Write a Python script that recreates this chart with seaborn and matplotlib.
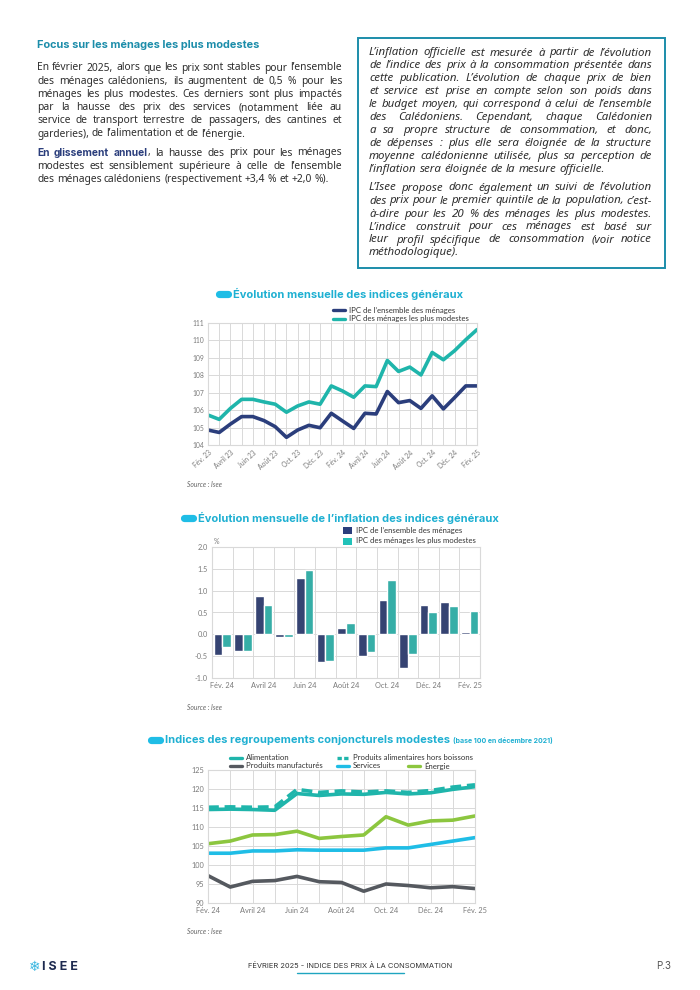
import matplotlib
matplotlib.use("Agg")
import matplotlib.pyplot as plt
from matplotlib.patches import Rectangle
from matplotlib.lines import Line2D
import seaborn as sns
import pandas as pd
import numpy as np

W, H = 700, 990

# ---- data ----
mois_23_25 = ["Fév. 23", "Mars 23", "Avril 23", "Mai 23", "Juin 23", "Juil. 23", "Août 23",
              "Sept. 23", "Oct. 23", "Nov. 23", "Déc. 23", "Janv. 24", "Fév. 24", "Mars 24",
              "Avril 24", "Mai 24", "Juin 24", "Juil. 24", "Août 24", "Sept. 24", "Oct. 24",
              "Nov. 24", "Déc. 24", "Janv. 25", "Fév. 25"]
ipc_ensemble = [104.86, 104.72, 105.20, 105.63, 105.63, 105.40, 105.05, 104.44, 104.86, 105.13,
                104.99, 105.82, 105.38, 104.95, 105.82, 105.78, 107.07, 106.43, 106.55, 106.10,
                106.82, 106.07, 106.72, 107.39, 107.39]
ipc_modestes = [105.72, 105.47, 106.10, 106.62, 106.62, 106.47, 106.34, 105.88, 106.24, 106.47,
                106.34, 107.39, 107.10, 106.74, 107.39, 107.35, 108.85, 108.22, 108.47, 108.02,
                109.31, 108.89, 109.41, 110.04, 110.62]

mois_24_25 = ["Fév. 24", "Mars 24", "Avril 24", "Mai 24", "Juin 24", "Juil. 24", "Août 24",
              "Sept. 24", "Oct. 24", "Nov. 24", "Déc. 24", "Janv. 25", "Fév. 25"]
infl_ensemble = [-0.47, -0.38, 0.87, -0.07, 1.29, -0.64, 0.15, -0.50, 0.78, -0.77, 0.68, 0.73, 0.05]
infl_modestes = [-0.30, -0.38, 0.68, -0.05, 1.47, -0.62, 0.27, -0.40, 1.24, -0.45, 0.50, 0.66, 0.54]

alimentation = [114.6, 114.7, 114.6, 114.4, 118.8, 118.3, 118.7, 118.6, 119.1, 118.7, 119.0, 119.9, 120.6]
alim_hors_boissons = [115.2, 115.3, 115.2, 115.3, 119.9, 119.1, 119.5, 119.2, 119.5, 119.1, 119.6, 120.5, 121.1]
manufactures = [97.2, 94.2, 95.7, 95.9, 97.0, 95.6, 95.4, 93.1, 95.0, 94.6, 94.0, 94.3, 93.8]
services = [103.1, 103.1, 103.7, 103.7, 104.0, 103.9, 103.9, 103.9, 104.5, 104.5, 105.4, 106.3, 107.2]
energie = [105.6, 106.3, 107.9, 108.0, 108.9, 107.0, 107.5, 107.9, 112.7, 110.5, 111.6, 111.8, 112.9]

label_ens = "IPC de l’ensemble des ménages"
label_mod = "IPC des ménages les plus modestes"

# ---- colours ----
NAVY = "#2B3E7C"
TEAL = "#1FB5AB"
TEAL_BAR = "#22C2B9"
CYAN = "#1FBDE6"
TITLE = "#1FB0D2"
HEAD = "#1C8DAA"
GREY_TXT = "#7a7a7a"
GRID = "#d9d9d9"
BODY = "#2e2e2e"
BODY_FONT = ["Noto Sans", "DejaVu Sans"]
TITLE_FONT = ["Inter", "DejaVu Sans"]

sns.set_theme(style="white")
plt.rcParams["font.family"] = ["Lato", "DejaVu Sans"]

fig = plt.figure(figsize=(7, 9.9), dpi=100)
renderer = fig.canvas.get_renderer()


def fx(x):
    return x / W


def fy(y):
    return 1 - y / H


def fit_size(lines, width, style="normal", base=8.0):
    # font size so that the fullest justified line just fills the column
    widest = 0
    for line in lines:
        t = fig.text(0, 0, line, fontsize=base, fontstyle=style, family=BODY_FONT)
        widest = max(widest, t.get_window_extent(renderer).width)
        t.remove()
    return base * width / widest * 0.99


def text_line(segments, x0, y, width=None, size=8.0, style="normal"):
    # draws one line word by word, justified when width is given
    words = []
    for txt, weight, col in segments:
        for k, w in enumerate(txt.split(" ")):
            if w:
                attached = k == 0 and len(words) > 0
                words.append((w, weight, col, attached))
    objs = []
    for w, wt, c, a in words:
        fam = TITLE_FONT if wt == "bold" else BODY_FONT
        objs.append(fig.text(0, fy(y), w, fontsize=size, fontweight=wt, color=c, fontstyle=style,
                             family=fam, va="center", ha="left"))
    widths = [o.get_window_extent(renderer).width for o in objs]
    n_gaps = sum(1 for w in words[1:] if not w[3])
    gap = size * 0.26 * 100 / 72
    if width is not None and n_gaps > 0:
        gap = max((width - sum(widths)) / n_gaps, 1.2)
    x = x0
    for o, w, wd in zip(objs, widths, words):
        if wd[3]:
            x -= gap
        o.set_x(fx(x))
        x += w + gap


# ---- left text block ----
fig.text(fx(37), fy(45), "Focus sur les ménages les plus modestes", fontsize=7.9,
         fontweight="bold", color=HEAD, va="center", family=TITLE_FONT)
para1 = ["En février 2025, alors que les prix sont stables pour l’ensemble",
         "des ménages calédoniens, ils augmentent de 0,5 % pour les",
         "ménages les plus modestes. Ces derniers sont plus impactés",
         "par la hausse des prix des services (notamment liée au",
         "service de transport terrestre de passagers, des cantines et",
         "garderies), de l’alimentation et de l’énergie."]
para2 = [[("En glissement annuel", "bold", NAVY), (", la hausse des prix pour les ménages", "normal", BODY)],
         [("modestes est sensiblement supérieure à celle de l’ensemble", "normal", BODY)],
         [("des ménages calédoniens (respectivement +3,4 % et +2,0 %).", "normal", BODY)]]
left_size = fit_size(para1[:-1] + ["".join(s[0] for s in segs) for segs in para2[:-1]], 305)
for i, line in enumerate(para1):
    last = i == len(para1) - 1
    text_line([(line, "normal", BODY)], 37, 68 + i * 13.2, None if last else 305, size=left_size)
for i, segs in enumerate(para2):
    last = i == len(para2) - 1
    text_line(segs, 37, 153 + i * 13.2, None if last else 305, size=left_size)

# ---- right box ----
fig.patches.append(Rectangle((fx(358), fy(268)), fx(665) - fx(358), fy(38) - fy(268),
                             transform=fig.transFigure, fill=False, edgecolor=HEAD, lw=1.4))
box1 = ["L’inflation officielle est mesurée à partir de l’évolution",
        "de l’indice des prix à la consommation présentée dans",
        "cette publication. L’évolution de chaque prix de bien",
        "et service est prise en compte selon son poids dans",
        "le budget moyen, qui correspond à celui de l’ensemble",
        "des Calédoniens. Cependant, chaque Calédonien",
        "a sa propre structure de consommation, et donc,",
        "de dépenses : plus elle sera éloignée de la structure",
        "moyenne calédonienne utilisée, plus sa perception de",
        "l’inflation sera éloignée de la mesure officielle."]
box2 = ["L’Isee propose donc également un suivi de l’évolution",
        "des prix pour le premier quintile de la population, c’est-",
        "à-dire pour les 20 % des ménages les plus modestes.",
        "L’indice construit pour ces ménages est basé sur",
        "leur profil spécifique de consommation (voir notice",
        "méthodologique)."]
box_size = fit_size(box1[:-1] + box2[:-1], 283, style="italic")
for i, line in enumerate(box1):
    last = i == len(box1) - 1
    text_line([(line, "normal", BODY)], 369, 53 + i * 12.9, None if last else 283, size=box_size, style="italic")
for i, line in enumerate(box2):
    last = i == len(box2) - 1
    text_line([(line, "normal", BODY)], 369, 188 + i * 13.0, None if last else 283, size=box_size, style="italic")


def chart_title(x_pill, y, txt, size=8.0, extra=None):
    fig.lines.append(Line2D([fx(x_pill + 4), fx(x_pill + 13)], [fy(y), fy(y)], transform=fig.transFigure,
                            color=CYAN, lw=5.2, solid_capstyle="round"))
    t = fig.text(fx(x_pill + 18), fy(y), txt, fontsize=size, fontweight="bold", color=TITLE,
                 va="center", family=TITLE_FONT)
    if extra:
        w = t.get_window_extent(renderer).width
        fig.text(fx(x_pill + 18 + w + 3), fy(y + 0.5), extra, fontsize=5.0, fontweight="bold",
                 color=TITLE, va="center", family=TITLE_FONT)


def leg_line(x, y, color, label, ls="-"):
    fig.lines.append(Line2D([fx(x), fx(x + 12)], [fy(y), fy(y)], transform=fig.transFigure,
                            color=color, lw=2.4, ls=ls))
    fig.text(fx(x + 16), fy(y), label, fontsize=5.6, color="#333333", va="center")


def leg_box(x, y, color, label):
    fig.patches.append(Rectangle((fx(x), fy(y + 3.5)), 9 / W, 7 / H, transform=fig.transFigure,
                                 facecolor=color, edgecolor="none"))
    fig.text(fx(x + 13), fy(y), label, fontsize=5.6, color="#333333", va="center")


def style_axes(ax, size=5.0):
    for s in ax.spines.values():
        s.set_color(GRID)
        s.set_linewidth(0.8)
    ax.tick_params(length=0, labelsize=size, labelcolor=GREY_TXT, pad=3)
    ax.set_xlabel("")
    ax.set_ylabel("")


def source(y):
    fig.text(fx(187), fy(y), "Source : Isee", fontsize=4.9, fontstyle="italic", color="#666666", va="center")


# ---- chart 1 ----
chart_title(215, 294, "Évolution mensuelle des indices généraux")
ax1 = fig.add_axes([fx(208), fy(445), fx(477) - fx(208), fy(323) - fy(445)])
df1 = pd.DataFrame({"idx": list(range(len(mois_23_25))) * 2,
                    "val": ipc_ensemble + ipc_modestes,
                    "serie": [label_ens] * len(mois_23_25) + [label_mod] * len(mois_23_25)})
sns.lineplot(data=df1, x="idx", y="val", hue="serie", palette=[NAVY, TEAL], lw=2.6, legend=False, ax=ax1)
ax1.set_xlim(0, len(mois_23_25) - 1)
ax1.set_ylim(104, 111)
ax1.set_yticks(range(104, 112))
ax1.set_xticks(range(len(mois_23_25)))
ax1.set_xticklabels([m if i % 2 == 0 else "" for i, m in enumerate(mois_23_25)], rotation=42,
                    ha="right", rotation_mode="anchor")
ax1.grid(True, color=GRID, lw=0.7)
style_axes(ax1, 4.9)
leg_line(333, 310, NAVY, label_ens)
leg_line(333, 319, TEAL, label_mod)
source(485)

# ---- chart 2 ----
chart_title(180, 518, "Évolution mensuelle de l’inflation des indices généraux")
ax2 = fig.add_axes([fx(212), fy(678), fx(480) - fx(212), fy(547) - fy(678)])
df2 = pd.DataFrame({"mois": mois_24_25 * 2,
                    "val": infl_ensemble + infl_modestes,
                    "serie": [label_ens] * len(mois_24_25) + [label_mod] * len(mois_24_25)})
sns.barplot(data=df2, x="mois", y="val", hue="serie", palette=[NAVY, TEAL_BAR], order=mois_24_25,
            width=0.84, gap=0.0, legend=False, ax=ax2)
ax2.set_xlim(-0.5, len(mois_24_25) - 0.5)
ax2.set_ylim(-1.0, 2.0)
ax2.set_yticks(np.arange(-1.0, 2.01, 0.5))
ax2.set_yticklabels([f"{v:.1f}" for v in np.arange(-1.0, 2.01, 0.5)])
ax2.set_xticks(range(0, len(mois_24_25), 2))
ax2.set_xticklabels(mois_24_25[::2])
ax2.set_xticks(np.arange(-0.5, len(mois_24_25), 1), minor=True)
ax2.grid(True, axis="y", color=GRID, lw=0.7)
ax2.grid(True, axis="x", which="minor", color=GRID, lw=0.7)
ax2.set_axisbelow(True)
style_axes(ax2, 5.3)
ax2.tick_params(which="minor", length=0)
fig.text(fx(214), fy(541), "%", fontsize=5, color=GREY_TXT, va="center")
leg_box(343, 530, NAVY, label_ens)
leg_box(343, 541, TEAL_BAR, label_mod)
source(708)

# ---- chart 3 ----
chart_title(147, 740, "Indices des regroupements conjoncturels modestes", size=8.0,
            extra="(base 100 en décembre 2021)")
ax3 = fig.add_axes([fx(208), fy(903), fx(475) - fx(208), fy(770) - fy(903)])
x3 = list(range(len(mois_24_25)))
series3 = [("Alimentation", alimentation, TEAL, "-"),
           ("Produits manufacturés", manufactures, "#55595f", "-"),
           ("Services", services, CYAN, "-"),
           ("Énergie", energie, "#8CC63F", "-"),
           ("Produits alimentaires hors boissons", alim_hors_boissons, TEAL, "--")]
for name, vals, col, ls in series3:
    sns.lineplot(x=x3, y=vals, color=col, lw=2.6, ax=ax3, linestyle=ls)
ax3.lines[-1].set_dashes([3, 1.6])
ax3.set_xlim(0, len(mois_24_25) - 1)
ax3.set_ylim(90, 125)
ax3.set_yticks(range(90, 126, 5))
ax3.set_xticks(x3)
ax3.set_xticklabels([m if i % 2 == 0 else "" for i, m in enumerate(mois_24_25)])
ax3.grid(True, color=GRID, lw=0.7)
style_axes(ax3, 5.3)
leg_line(230, 758, TEAL, "Alimentation")
leg_line(337, 758, TEAL, "Produits alimentaires hors boissons", ls=(0, (1.3, 0.7)))
leg_line(230, 766, "#55595f", "Produits manufacturés")
leg_line(337, 766, CYAN, "Services")
leg_line(408, 766, "#8CC63F", "Énergie")
source(932)

# ---- footer ----
fig.text(fx(29), fy(967), "❄", fontsize=10, color="#38B6E0", va="center", family="DejaVu Sans")
fig.text(fx(42), fy(967), "I S E E", fontsize=9, fontweight="bold", color="#1D2A4F", va="center",
         family=TITLE_FONT)
fig.text(fx(350), fy(966), "FÉVRIER 2025 - INDICE DES PRIX À LA CONSOMMATION", fontsize=5.4,
         color="#333333", ha="center", va="center", family=TITLE_FONT)
fig.lines.append(Line2D([fx(297), fx(404)], [fy(973), fy(973)], transform=fig.transFigure,
                        color="#1FA5C0", lw=1.0))
fig.text(fx(656), fy(966), "P.3", fontsize=7, color="#555555", va="center", family=TITLE_FONT)

fig.savefig("out.png", dpi=100)
